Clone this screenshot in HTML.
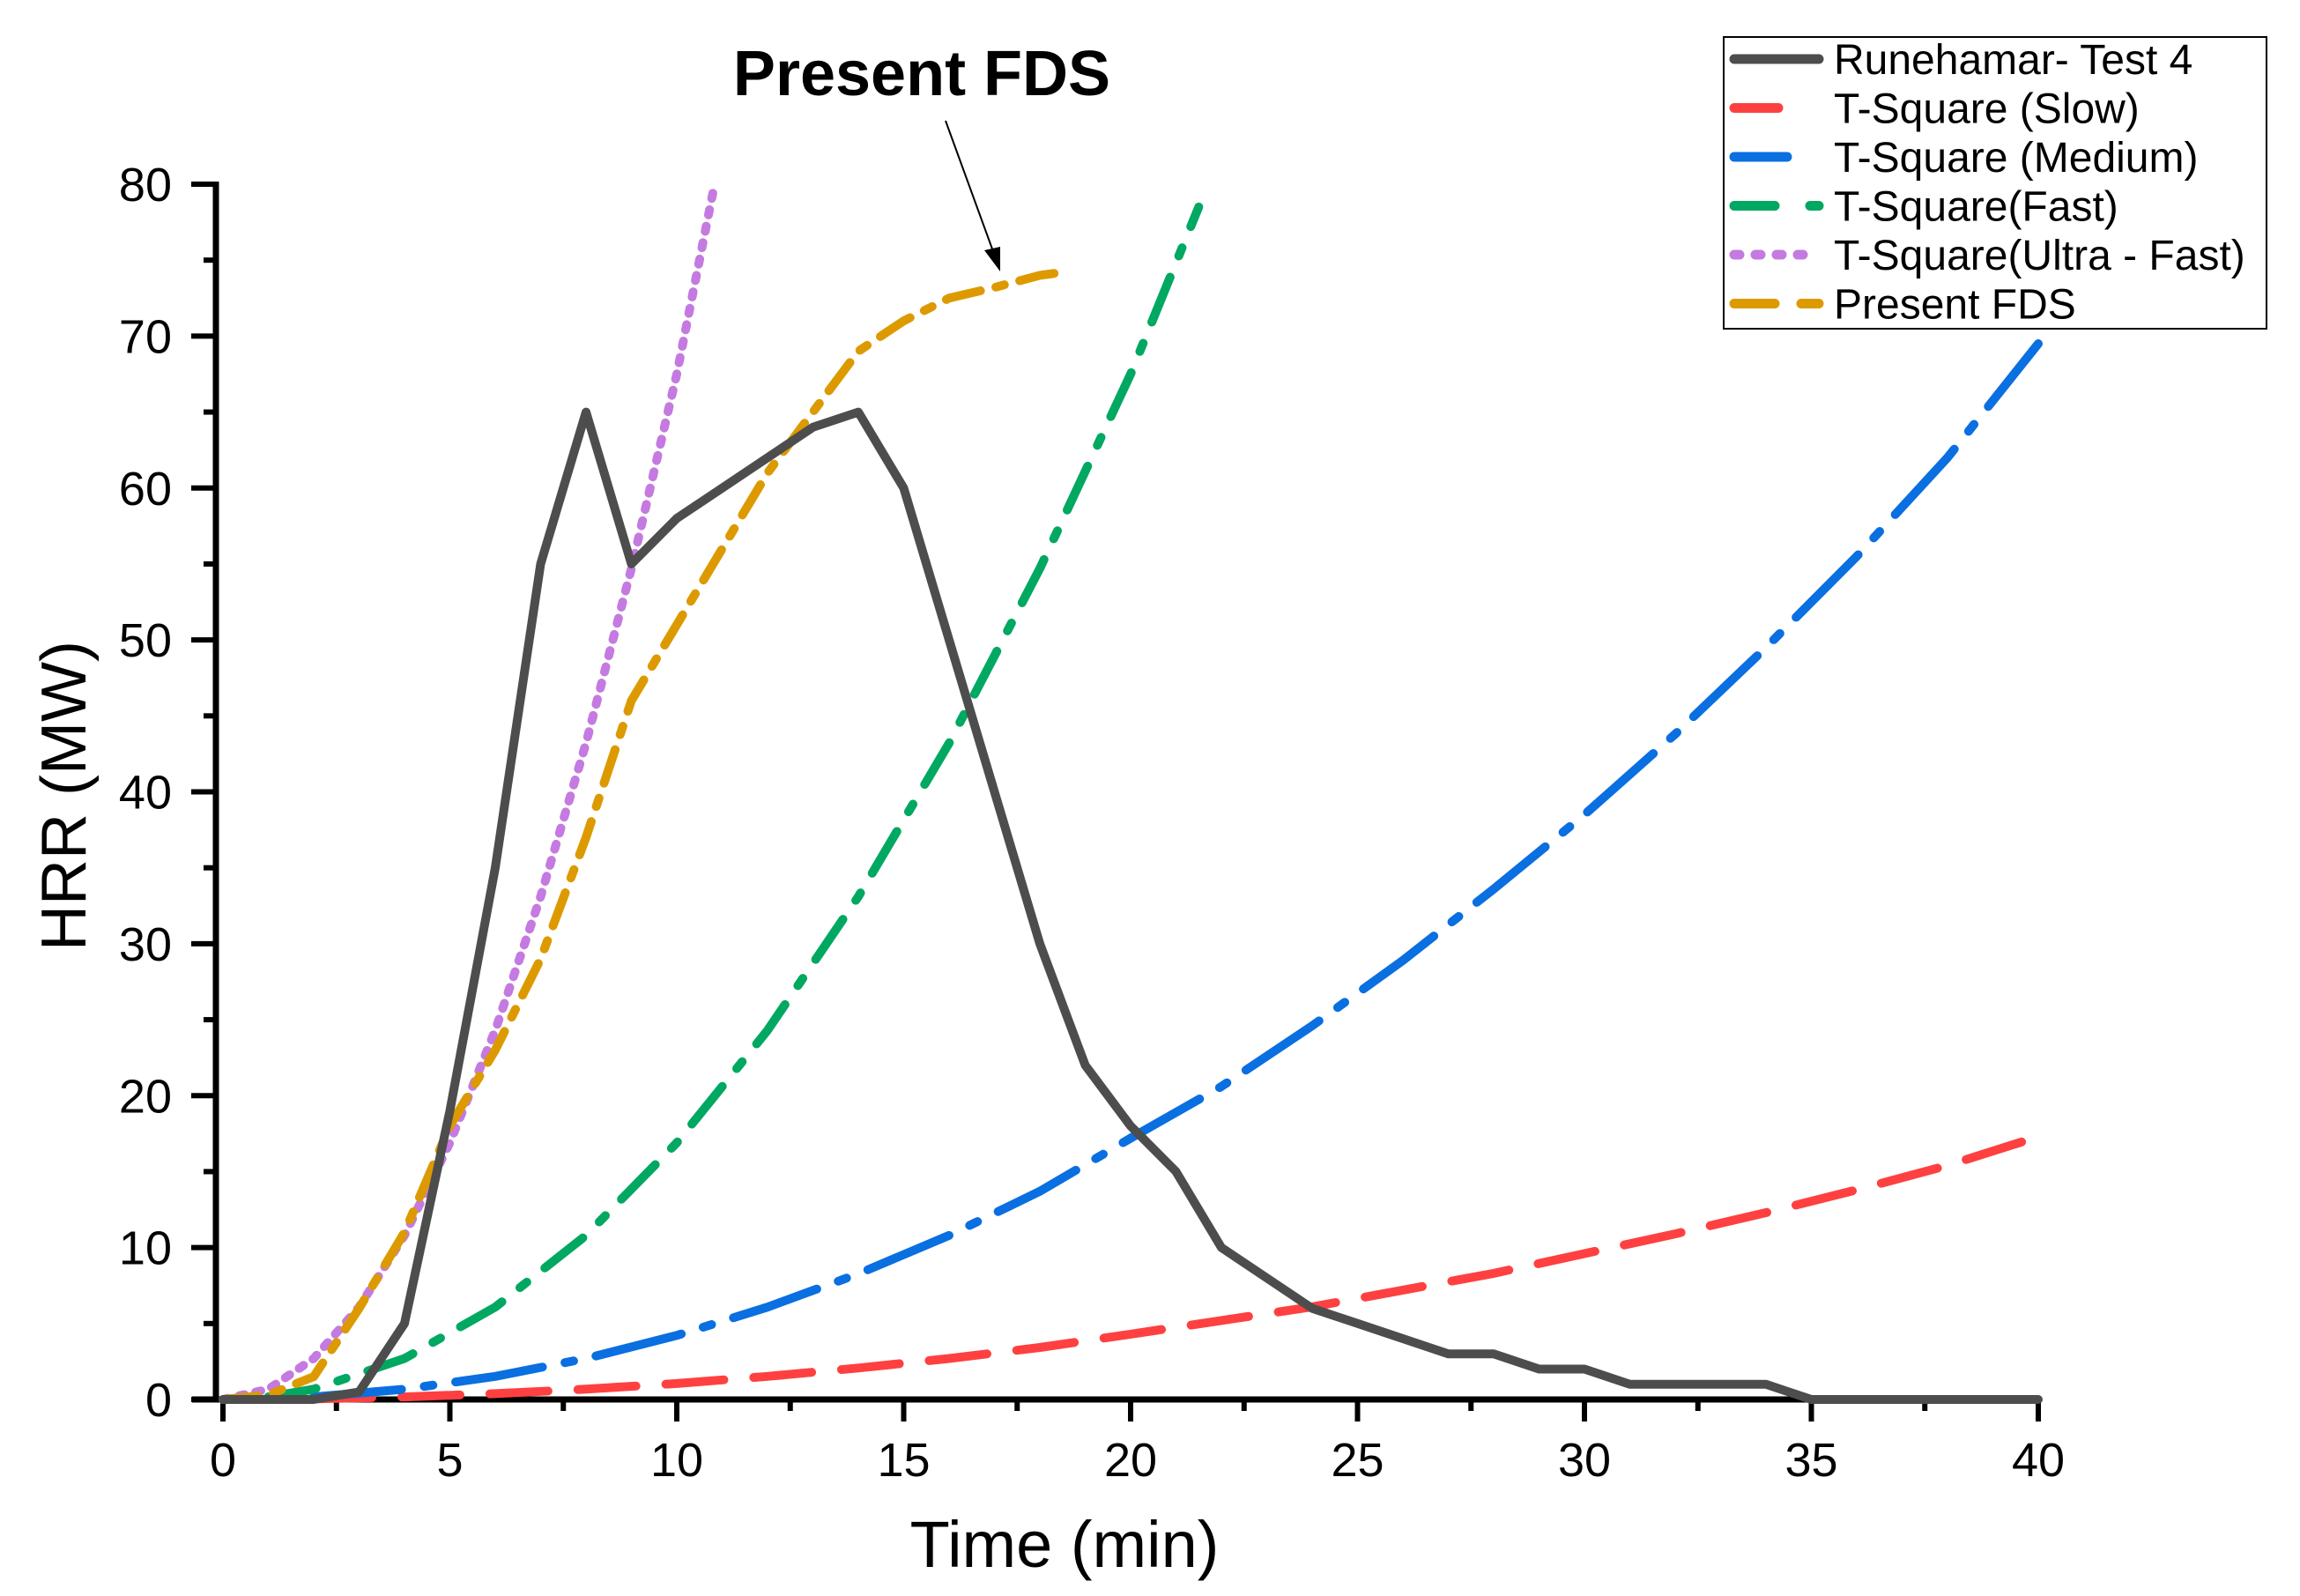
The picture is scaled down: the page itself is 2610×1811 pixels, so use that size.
<!DOCTYPE html>
<html><head><meta charset="utf-8"><style>
html,body{margin:0;padding:0;background:#fff;}
svg{display:block;font-family:"Liberation Sans",Arial,sans-serif;}
</style></head><body>
<svg id="chart" width="2610" height="1811" viewBox="0 0 2610 1811" xmlns="http://www.w3.org/2000/svg">
<g id="axes"></g>
<g id="series"></g>
<text x="0" y="0" transform="translate(97,903) rotate(-90)" font-size="72" text-anchor="middle">HRR (MW)</text>
<text x="1208" y="1778" font-size="74" text-anchor="middle">Time (min)</text>
<text x="1046" y="108" font-size="72" font-weight="bold" text-anchor="middle">Present FDS</text>
<g>
<line x1="1073" y1="137" x2="1128" y2="288" stroke="#000" stroke-width="2"/>
<polygon points="1135,308 1117,284 1135,280" fill="#000"/>
</g>
<g id="legend">
<rect x="1956" y="42" width="616" height="331" fill="#fff" stroke="#000" stroke-width="2"/>
</g>
</svg>
<script>
const xTicks = [0,5,10,15,20,25,30,35,40];
const yTicks = [0,10,20,30,40,50,60,70,80];
const runeT = [0,1,2,3,4,5,6,7,8,9,10,11,12,13,14,15,16,17,18,19,20,21,22,23,24,25,26,27,28,29,30,31,32,33,34,35,36,37,38,39,40];
const runeV = [0,0,0,0.5,5,19,35,55,65,55,58,60,62,64,65,60,50,40,30,22,18,15,10,8,6,5,4,3,3,2,2,1,1,1,1,0,0,0,0,0,0];
const slowT = [2,4,6,8,10,12,14,16,18,20,22,24,26,28,30,32,34,36,38,40];
const slowV = [0.04,0.17,0.38,0.68,1.05,1.52,2.07,2.7,3.42,4.3,5.2,6.1,7.2,8.3,9.6,10.9,12.3,13.8,15.4,17.3];
const medT = [2,4,6,8,10,12,14,16,18,20,22,24,26,28,30,32,34,36,38,40];
const medV = [0.17,0.68,1.52,2.7,4.22,6.08,8.27,10.8,13.7,17.2,20.6,24.6,28.9,33.6,38.5,43.8,49.5,55.5,62,69.5];
const fastT = [1,2,4,6,8,10,12,14,16,18,20,21.5];
const fastV = [0.17,0.68,2.7,6.08,10.8,16.9,24.3,33.1,43.2,54.7,67.5,78.5];
const ultraT = [0,1,2,3,4,5,6,7,8,9,10,10.8];
const ultraV = [0,0.68,2.7,6.08,10.8,16.9,24.3,33.1,43.2,54.7,67.5,79.5];
const fdsT = [0,1,2,3,4,5,6,7,8,9,10,11,12,13,14,15,16,17,18,18.5];
const fdsV = [0,0.3,1.5,6,11,18,23,29,37,46,51,56,61,65,69,71,72.5,73.2,74,74.2];

const X0=253, XS=(2313-253)/40, Y0=1588, YS=(1588-209)/80;
const sx = t => X0 + t*XS;
const sy = v => Y0 - v*YS;
const NS='http://www.w3.org/2000/svg';
function mk(tag, attrs, parent){const e=document.createElementNS(NS,tag);for(const k in attrs)e.setAttribute(k,attrs[k]);parent.appendChild(e);return e;}

const axes=document.getElementById('axes');
const yAxis=mk('line',{x1:245,y1:206,x2:245,y2:1591,stroke:'#000','stroke-width':7},axes);


const xAxis=mk('line',{x1:218,y1:1588,x2:2316,y2:1588,stroke:'#000','stroke-width':7},axes);


yTicks.forEach(v=>{
  const tk=mk('line',{x1:217,y1:sy(v),x2:245,y2:sy(v),stroke:'#000','stroke-width':6},axes);
  
  
  if(v<80){const mt=mk('line',{x1:231,y1:sy(v+5),x2:245,y2:sy(v+5),stroke:'#000','stroke-width':6},axes);
  
  }
  const lb=mk('text',{x:195,y:sy(v)+19,'font-size':54,'text-anchor':'end'},axes);
  lb.textContent=v;
  
  
});
xTicks.forEach(t=>{
  const tk=mk('line',{x1:sx(t),y1:1588,x2:sx(t),y2:1613,stroke:'#000','stroke-width':6},axes);
  
  
  if(t<40){const mt=mk('line',{x1:sx(t+2.5),y1:1588,x2:sx(t+2.5),y2:1601,stroke:'#000','stroke-width':6},axes);
  
  }
  const lb=mk('text',{x:sx(t),y:1675,'font-size':54,'text-anchor':'middle'},axes);
  lb.textContent=t;
  
  
});

const series=document.getElementById('series');
const defs=[
 {n:'series-slow',t:slowT,v:slowV,c:'#ff4040',d:'66 34'},
 {n:'series-medium',t:medT,v:medV,c:'#0a6fe0',d:'100 26 10 26'},
 {n:'series-fast',t:fastT,v:fastV,c:'#00a862',d:'55 26 10 26'},
 {n:'series-ultra-fast',t:ultraT,v:ultraV,c:'#c47ae0',d:'6 13'},
 {n:'series-present-fds',t:fdsT,v:fdsV,c:'#dc9a00',d:'40 18 10 18'},
 {n:'series-runehamar',t:runeT,v:runeV,c:'#4d4d4d',d:''}
];
defs.forEach(s=>{
  const pts=s.t.map((t,i)=>sx(t).toFixed(1)+','+sy(s.v[i]).toFixed(1)).join(' ');
  const a={points:pts,fill:'none',stroke:s.c,'stroke-width':10,'stroke-linejoin':'round','stroke-linecap':'round'};
  if(s.d)a['stroke-dasharray']=s.d;
  const p=mk('polyline',a,series);
  
  
});

const legend=document.getElementById('legend');
const legNames=['Runehamar- Test 4','T-Square (Slow)','T-Square (Medium)','T-Square(Fast)','T-Square(Ultra - Fast)','Present FDS'];
const legColors=['#4d4d4d','#ff4040','#0a6fe0','#00a862','#c47ae0','#dc9a00'];
const legDash=['','50 60','60 40','46 40','6 18','46 30'];
legNames.forEach((nm,i)=>{
  const y=67+i*55.5;
  const a={x1:1968,y1:y,x2:2064,y2:y,stroke:legColors[i],'stroke-width':11,'stroke-linecap':'round'};
  if(legDash[i])a['stroke-dasharray']=legDash[i];
  const l=mk('line',a,legend);
  
  
  const tx=mk('text',{x:2081,y:y+17,'font-size':48},legend);
  tx.textContent=nm;
  
  
});
</script>
</body></html>
